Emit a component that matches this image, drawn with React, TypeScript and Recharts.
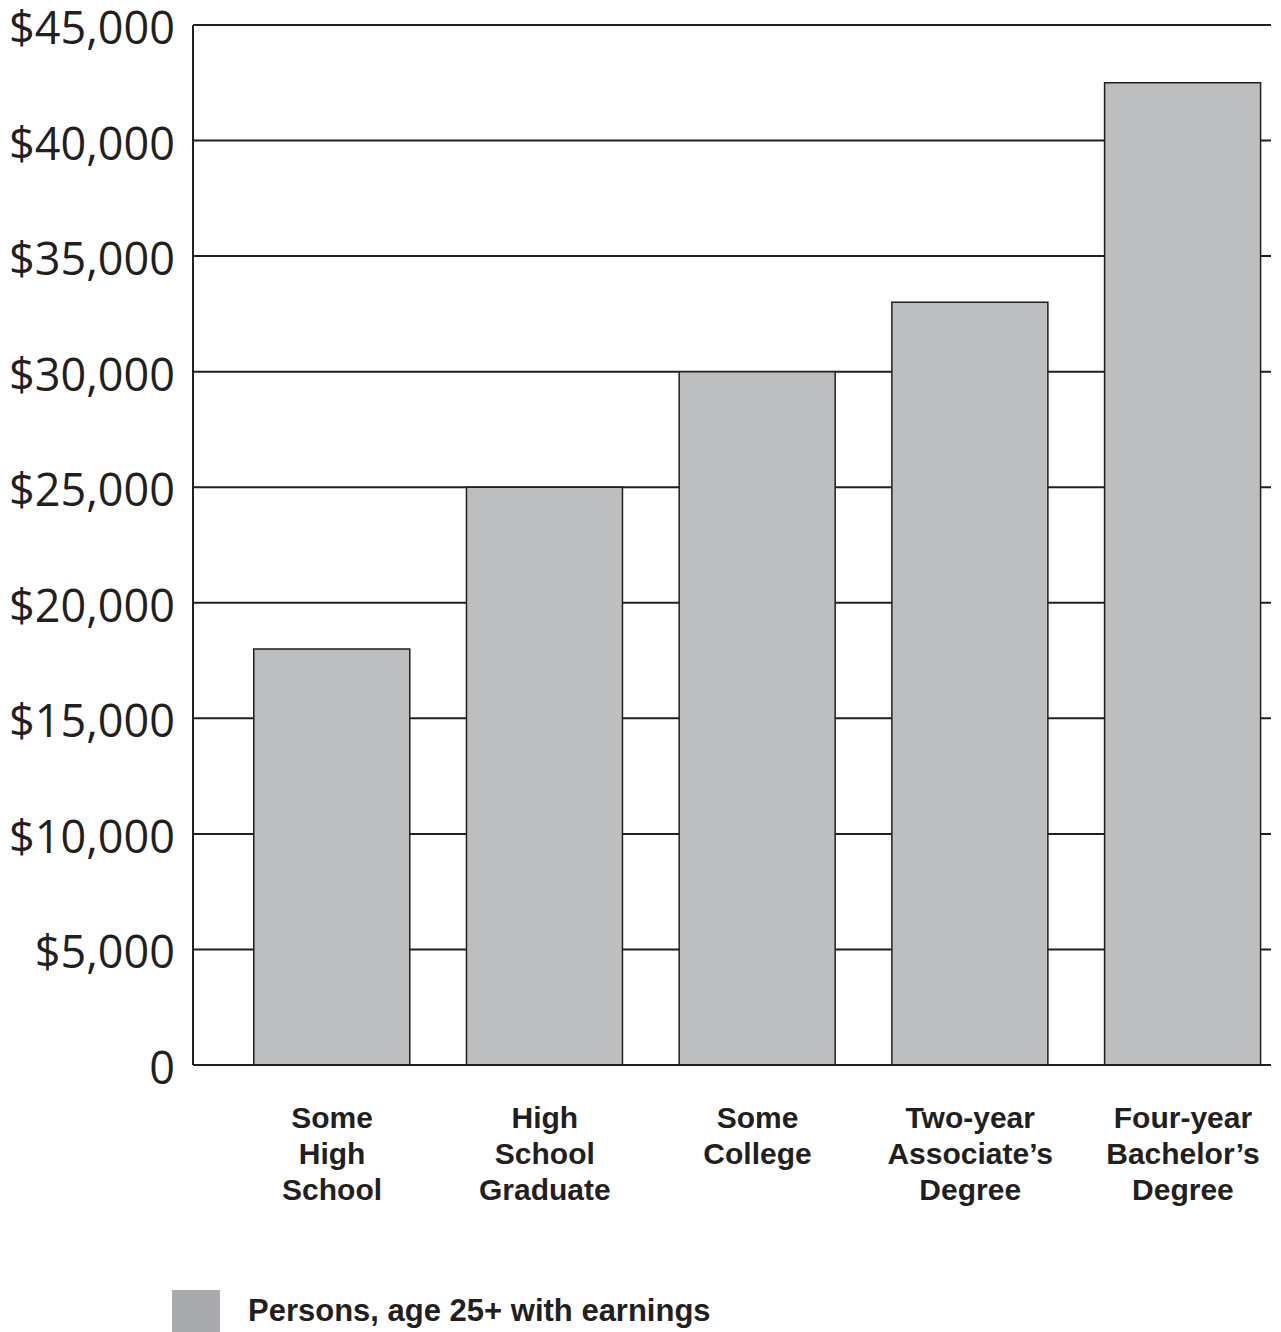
import React from "react";
import { BarChart, Bar, XAxis, YAxis, CartesianGrid, Legend } from "recharts";

const categoryLines: string[][] = [
  ["Some", "High", "School"],
  ["High", "School", "Graduate"],
  ["Some", "College"],
  ["Two-year", "Associate’s", "Degree"],
  ["Four-year", "Bachelor’s", "Degree"],
];
const earnings: number[] = [18000, 25000, 30000, 33000, 42500];
const yTicks: number[] = [0, 5000, 10000, 15000, 20000, 25000, 30000, 35000, 40000, 45000];
const yTickLabels: string[] = ["0", "$5,000", "$10,000", "$15,000", "$20,000", "$25,000", "$30,000", "$35,000", "$40,000", "$45,000"];
const seriesName = "Persons, age 25+ with earnings";

const data = earnings.map((v, i) => ({ pos: i, value: v }));
const INK = "#231f20";

const XTick = (props: any) => {
  const { x, y, payload } = props;
  const lines = categoryLines[payload.value] || [];
  return (
    <text
      x={x}
      y={y}
      textAnchor="middle"
      fill={INK}
      style={{ fontFamily: "'Liberation Sans', Arial, sans-serif", fontWeight: 700, fontSize: 30 }}
    >
      {lines.map((l, i) => (
        <tspan key={i} x={x} y={y + 55 + i * 36}>
          {l}
        </tspan>
      ))}
    </text>
  );
};

const YTick = (props: any) => {
  const { x, y, payload } = props;
  const idx = yTicks.indexOf(payload.value);
  return (
    <text
      x={x}
      y={y}
      dy={19}
      textAnchor="end"
      fill={INK}
      style={{ fontFamily: "'Open Sans', sans-serif", fontWeight: 400, fontSize: 45 }}
    >
      {yTickLabels[idx]}
    </text>
  );
};

const LegendContent = () => (
  <div style={{ display: "flex", alignItems: "center" }}>
    <div style={{ width: 48, height: 42, background: "#a7a9ac" }} />
    <span
      style={{
        marginLeft: 28,
        fontFamily: "'Liberation Sans', Arial, sans-serif",
        fontWeight: 700,
        fontSize: 31,
        color: INK,
        whiteSpace: "nowrap",
      }}
    >
      {seriesName}
    </span>
  </div>
);

export default function App() {
  return (
    <div style={{ position: "absolute", left: 0, top: 0, width: 1281, height: 1332, background: "#fff" }}>
      <BarChart width={1281} height={1332} data={data} margin={{ top: 25, right: 10, bottom: 0, left: 0 }}>
        <CartesianGrid vertical={false} stroke={INK} strokeWidth={2} strokeOpacity={1} />
        <XAxis
          type="number"
          dataKey="pos"
          domain={[-0.654, 4.414]}
          ticks={[0, 1, 2, 3, 4]}
          allowDataOverflow
          height={267}
          tickLine={false}
          axisLine={{ stroke: INK, strokeWidth: 2 }}
          tick={<XTick />}
          interval={0}
        />
        <YAxis
          domain={[0, 45000]}
          ticks={yTicks}
          width={193}
          tickLine={false}
          tickSize={0}
          tickMargin={18}
          axisLine={{ stroke: INK, strokeWidth: 2 }}
          tick={<YTick />}
          interval={0}
        />
        <Legend
          layout="horizontal"
          verticalAlign="middle"
          align="center"
          content={<LegendContent />}
          wrapperStyle={{ left: 172, top: 1290, width: 720, height: 42 }}
        />
        <Bar
          dataKey="value"
          name={seriesName}
          barSize={156}
          fill="#bcbec0"
          stroke={INK}
          strokeWidth={1.5}
          isAnimationActive={false}
        />
      </BarChart>
    </div>
  );
}
